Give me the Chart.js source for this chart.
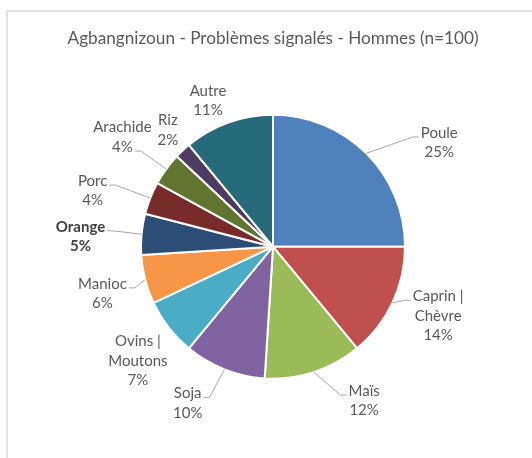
<!DOCTYPE html>
<html>
<head>
<meta charset="utf-8">
<script src="https://cdn.jsdelivr.net/npm/chart.js@4.4.1/dist/chart.umd.min.js"></script>
<style>
  html, body { margin: 0; padding: 0; background: #fff; overflow: hidden; }
  #wrap { position: relative; width: 532px; height: 458px; }
  #frame { position: absolute; left: 6px; top: 10px; right: -4px; bottom: -4px; border: 2px solid #e2e2e2; }
  #pie { position: absolute; left: 0; top: 0; }
</style>
</head>
<body>
<div id="wrap">
  <div id="frame"></div>
  <canvas id="pie" width="532" height="458"></canvas>
</div>
<script>
// Agbangnizoun - reported problems, men (n=100)
const categories = ['Poule', 'Caprin | Chèvre', 'Maïs', 'Soja', 'Ovins | Moutons', 'Manioc', 'Orange', 'Porc', 'Arachide', 'Riz', 'Autre'];
const shares = [25, 14, 12, 10, 7, 6, 5, 4, 4, 2, 11];
const sliceColors = ['#4F81BD', '#C0504D', '#9BBB59', '#8064A2', '#4BACC6', '#F79646',
                     '#2C4D75', '#772C2A', '#5F7530', '#4D3B62', '#276A7C'];

// label placement relative to each slice: angle shift (deg, clockwise) and distance (x radius)
const labelShift = [13, -2.5, -12.6, 7, -2.4, -1, -2.4, -4.4, 0, 1.2, -4.2];
const labelReach = [1.485, 1.356, 1.356, 1.35, 1.34, 1.34, 1.46, 1.43, 1.41, 1.19, 1.21];
const boldLabels = ['Orange'];

const FONT = 'Lato, "Open Sans", sans-serif';
const TEXT_COLOR = '#595959';

function wrapLabel(name) {
  // Excel wraps "A | B" after the bar
  const parts = name.split(' | ');
  if (parts.length === 1) return [name];
  return [parts[0] + ' |', parts[1]];
}

const pieLabels = {
  id: 'pieLabels',
  afterDatasetsDraw(chart) {
    const ctx = chart.ctx;
    const meta = chart.getDatasetMeta(0);
    const lh = 19.5;
    ctx.save();
    meta.data.forEach((arc, i) => {
      const p = arc.getProps(['x', 'y', 'startAngle', 'endAngle', 'outerRadius'], true);
      const mid = (p.startAngle + p.endAngle) / 2;
      const ax = p.x + Math.cos(mid) * p.outerRadius;
      const ay = p.y + Math.sin(mid) * p.outerRadius;
      const la = mid + labelShift[i] * Math.PI / 180;
      const lx = p.x + Math.cos(la) * p.outerRadius * labelReach[i];
      const ly = p.y + Math.sin(la) * p.outerRadius * labelReach[i];

      const lines = wrapLabel(categories[i]).concat(shares[i] + '%');
      const bold = boldLabels.includes(categories[i]);
      ctx.font = (bold ? 'bold ' : '') + '15px ' + FONT;
      ctx.fillStyle = bold ? '#404040' : TEXT_COLOR;
      ctx.textAlign = 'center';
      ctx.textBaseline = 'middle';
      const top = ly - lines.length * lh / 2;
      const bottom = top + lines.length * lh;
      lines.forEach((t, k) => ctx.fillText(t, lx, top + lh * (k + 0.5)));

      // leader line, only when the label sits away from its slice
      const boxW = Math.max(...lines.map(t => ctx.measureText(t).width));
      const gapX = Math.max(lx - boxW / 2 - ax, 0, ax - lx - boxW / 2);
      const gapY = Math.max(top - ay, 0, ay - bottom);
      if (Math.hypot(gapX, gapY) > 8) {
        const k = ay > bottom ? lines.length - 1 : 0;
        const w = ctx.measureText(lines[k]).width;
        const ty = top + lh * (k + 0.5) + 4;
        const toRight = lx < ax;
        const ex = toRight ? lx + w / 2 + 2 : lx - w / 2 - 2;
        ctx.strokeStyle = '#a6a6a6';
        ctx.lineWidth = 1;
        ctx.beginPath();
        ctx.moveTo(ex, ty);
        ctx.lineTo(toRight ? ex + 6 : ex - 6, ty);
        ctx.lineTo(ax, ay);
        ctx.stroke();
      }
    });
    ctx.restore();
  }
};

new Chart(document.getElementById('pie'), {
  type: 'pie',
  data: {
    labels: categories,
    datasets: [{
      data: shares,
      backgroundColor: sliceColors,
      borderColor: '#ffffff',
      borderWidth: 2,
      radius: 132
    }]
  },
  options: {
    responsive: false,
    animation: false,
    layout: { padding: { left: 14, right: 0, top: 0, bottom: 22.8 } },
    plugins: {
      legend: { display: false },
      tooltip: { enabled: false },
      title: {
        display: true,
        text: 'Agbangnizoun - Problèmes signalés - Hommes (n=100)',
        color: TEXT_COLOR,
        font: { family: FONT, size: 17.2, weight: 'normal', lineHeight: 1.2 },
        padding: { top: 28, bottom: 9.5 }
      }
    }
  },
  plugins: [pieLabels]
});
</script>
</body>
</html>
